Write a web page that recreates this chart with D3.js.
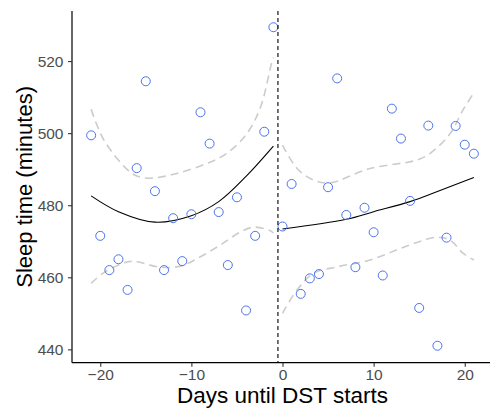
<!DOCTYPE html>
<html>
<head>
<meta charset="utf-8">
<script src="https://cdn.jsdelivr.net/npm/d3@7"></script>
<style>
  html, body { margin: 0; padding: 0; background: #ffffff; }
  svg { display: block; }
</style>
</head>
<body>
<svg id="chart" width="490" height="411"></svg>
<script>
// ---- data ----
const daysBefore = [-21,-20,-19,-18,-17,-16,-15,-14,-13,-12,-11,-10,-9,-8,-7,-6,-5,-4,-3,-2,-1];
const sleepBefore = [499.4,471.5,462,465,456.5,490.3,514.4,483.9,462,476.4,464.5,477.5,505.8,497.1,478.1,463.4,482.2,450.8,471.5,500.4,529.4];
const daysAfter = [0,1,2,3,4,5,6,7,8,9,10,11,12,13,14,15,16,17,18,19,20,21];
const sleepAfter = [474.1,485.9,455.4,459.7,460.9,485,515.2,477.3,462.8,479.3,472.5,460.5,506.8,498.5,481.2,451.5,502.1,441,471,502,496.8,494.3];

// fitted line (solid black)
const fitBeforeDays = [-21,-18,-14,-10,-7,-4,-1];
const fitBeforeVals = [482.6,478.2,475.3,477.1,481,488,496.4];
const fitAfterDays = [0,7,10,14,17,21];
const fitAfterVals = [473.4,476.1,478.2,481,483.8,487.7];

// upper / lower dashed grey curves
const upBeforeDays = [-21,-19.6,-17,-16,-14.5,-11.6,-8.3,-6.1,-3.9,-2.4,-1.2,-1];
const upBeforeVals = [506.6,498.1,489.8,488.1,487.5,488.8,491.6,494.4,499.9,507.3,519.4,521];
const loBeforeDays = [-21,-19.6,-17,-16,-13.4,-11.2,-9,-6.8,-4.6,-3.2,-1.5,-1];
const loBeforeVals = [458.3,461.3,464.3,464.3,462.8,463.1,465.7,469,472.6,473.9,473.1,472.3];
const upAfterDays = [0,1.6,3.4,5.2,9.6,14.7,16.2,18.4,19.8,21];
const upAfterVals = [496.7,490.2,487,486.2,490.2,492.5,494.4,499.9,506.4,511.2];
const loAfterDays = [0,1.6,3.4,6,9.6,14,16.9,18.4,19.8,21];
const loAfterVals = [450,456.5,461.1,462.9,464.8,469,471.1,470.3,466.7,464.8];

const xTicks = [-20,-10,0,10,20];
const yTicks = [440,460,480,500,520];
const dstLine = -0.5;

// ---- layout ----
const svg = d3.select("#chart");
const pLeft = 72, pRight = 493, pTop = 11, pBottom = 362.7;
const x = d3.scaleLinear().domain([-23.1, 23.1]).range([pLeft, pRight]);
const y = d3.scaleLinear().domain([436.3, 533.9]).range([pBottom, pTop]);

const zip = (a, b) => a.map((d, i) => [d, b[i]]);
const line = d3.line().x(d => x(d[0])).y(d => y(d[1])).curve(d3.curveCatmullRom.alpha(0.5));

const g = svg.append("g");

// dashed grey curves
[[upBeforeDays, upBeforeVals],[loBeforeDays, loBeforeVals],[upAfterDays, upAfterVals],[loAfterDays, loAfterVals]]
  .forEach(([d, v]) => {
    g.append("path").attr("d", line(zip(d, v)))
      .attr("fill", "none").attr("stroke", "#cccccc")
      .attr("stroke-width", 1.6).attr("stroke-dasharray", "8,5");
  });

// fitted black lines
[[fitBeforeDays, fitBeforeVals],[fitAfterDays, fitAfterVals]].forEach(([d, v]) => {
  g.append("path").attr("d", line(zip(d, v)))
    .attr("fill", "none").attr("stroke", "#000000").attr("stroke-width", 1.1);
});

// points
const pts = zip(daysBefore, sleepBefore).concat(zip(daysAfter, sleepAfter));
g.selectAll("circle.pt").data(pts).enter().append("circle")
  .attr("class", "pt")
  .attr("cx", d => x(d[0])).attr("cy", d => y(d[1])).attr("r", 4.5)
  .attr("fill", "none").attr("stroke", "#4d74ea").attr("stroke-width", 1);

// vertical DST line
g.append("line")
  .attr("x1", x(dstLine)).attr("x2", x(dstLine))
  .attr("y1", pTop).attr("y2", pBottom)
  .attr("stroke", "#000").attr("stroke-width", 1.1).attr("stroke-dasharray", "4,3");

// axes
const fontFam = "'Liberation Sans', Arial, Helvetica, sans-serif";
const xAxis = svg.append("g").attr("transform", `translate(0,${pBottom})`)
  .call(d3.axisBottom(x).tickValues(xTicks).tickSize(4).tickPadding(2.5).tickFormat(d3.format("d")));
const yAxis = svg.append("g").attr("transform", `translate(${pLeft},0)`)
  .call(d3.axisLeft(y).tickValues(yTicks).tickSize(4).tickPadding(4.5).tickFormat(d3.format("d")));

[xAxis, yAxis].forEach(a => {
  a.select(".domain").attr("stroke", "#000").attr("stroke-width", 1.2);
  a.selectAll(".tick line").attr("stroke", "#333").attr("stroke-width", 1.1);
  a.selectAll(".tick text").attr("fill", "#4d4d4d").style("font-size", "15.5px").style("font-family", fontFam);
});
xAxis.select(".domain").attr("d", `M${pLeft},0H${pRight}`);
yAxis.select(".domain").attr("d", `M0,${pTop}V${pBottom}`);

// titles
svg.append("text")
  .attr("x", (pLeft + pRight) / 2).attr("y", 403)
  .attr("text-anchor", "middle")
  .style("font-family", fontFam).style("font-size", "22.5px").attr("fill", "#000")
  .text("Days until DST starts");

svg.append("text")
  .attr("transform", `translate(32,${(pTop + pBottom) / 2}) rotate(-90)`)
  .attr("text-anchor", "middle")
  .style("font-family", fontFam).style("font-size", "22px").attr("fill", "#000")
  .text("Sleep time (minutes)");
</script>
</body>
</html>
